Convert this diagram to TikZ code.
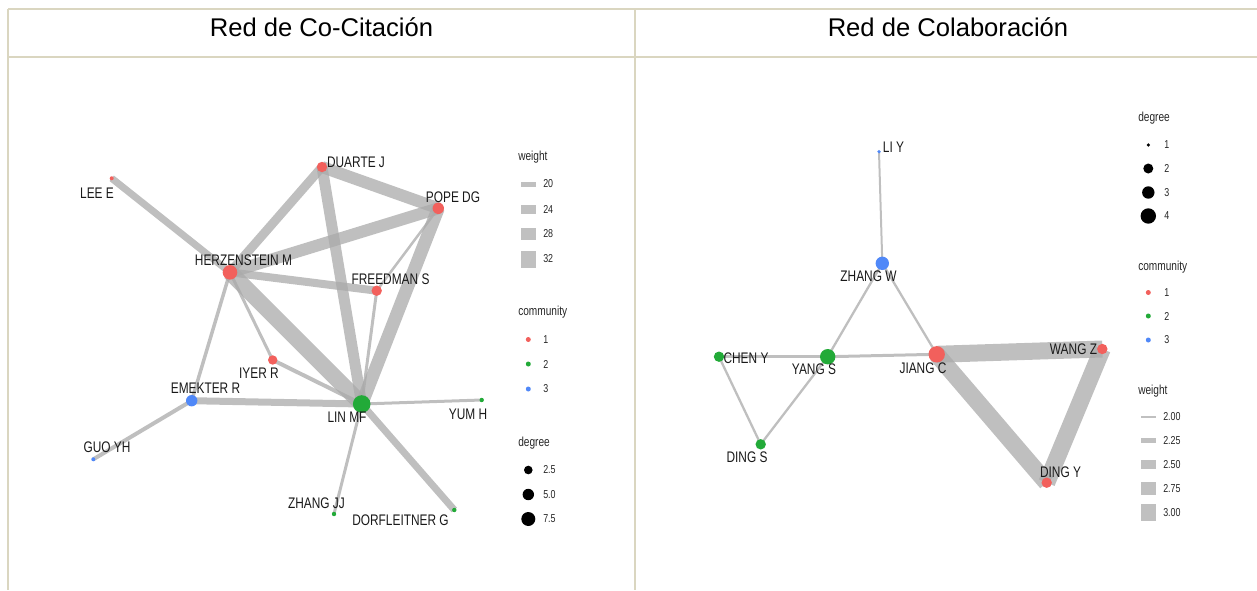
\documentclass[tikz,border=0pt]{standalone}
\usepackage{fontspec}
\setmainfont{Liberation Sans}
\newfontfamily\lblfont[FakeStretch=0.775]{Liberation Sans}
\usetikzlibrary{backgrounds}
\definecolor{cred}{HTML}{F2605C}
\definecolor{cgreen}{HTML}{22AA38}
\definecolor{cblue}{HTML}{5088F8}
\definecolor{edgegray}{RGB}{170,170,170}
\definecolor{keygray}{RGB}{192,192,192}
\definecolor{rulecol}{RGB}{218,214,192}
\tikzset{
  lnk/.style={draw=edgegray, opacity=0.75, line width=#1*0.75pt},
  dot/.style 2 args={circle, inner sep=0pt, minimum size=#2*1.5pt, fill=#1, draw=none},
  lbl/.style={font=\lblfont\fontsize{11.5}{12}\selectfont, inner sep=0pt, text=black!90},
  legt/.style={font=\lblfont\fontsize{9.8}{11}\selectfont, anchor=west, inner sep=0pt, text=black!85},
  legl/.style={font=\lblfont\fontsize{8.6}{9}\selectfont, anchor=west, inner sep=0pt, text=black!85},
  keybar/.style={fill=keygray, draw=none, inner sep=0pt, minimum width=15*0.75pt, minimum height=#1*0.75pt},
  ttl/.style={font=\fontsize{19.2}{22}\selectfont, inner sep=0pt, anchor=base},
  rulel/.style={draw=rulecol, line width=1.5pt}
}
\begin{document}
\begin{tikzpicture}[x=0.75pt,y=-0.75pt]
\useasboundingbox (0,0) rectangle (1257,590);
% table rules
\draw[rulel] (8,9) -- (1257,9);
\draw[rulel] (8,57) -- (1257,57);
\draw[rulel] (8,9) -- (8,590);
\draw[rulel] (635,9) -- (635,590);
\node[ttl] (t1) at (321.5,36.5) {Red de Co-Citación};
\node[ttl] (t2) at (948,36.5) {Red de Colaboración};

% ===== Left network nodes =====
\node[dot={cred}{2}] (lee) at (111.7,178.3) {};
\node[dot={cred}{5.2}] (duarte) at (322,167) {};
\node[dot={cred}{5.7}] (pope) at (438.3,208.3) {};
\node[dot={cred}{7.3}] (herz) at (230,272.3) {};
\node[dot={cred}{5.2}] (freed) at (376.7,290.7) {};
\node[dot={cred}{4.7}] (iyer) at (272.7,360) {};
\node[dot={cblue}{5.7}] (emek) at (191.7,400.7) {};
\node[dot={cgreen}{8.8}] (lin) at (361.7,404) {};
\node[dot={cgreen}{2.2}] (yum) at (481.7,400) {};
\node[dot={cblue}{2}] (guo) at (93.3,459.3) {};
\node[dot={cgreen}{2.2}] (zhangjj) at (334,514) {};
\node[dot={cgreen}{2.2}] (dorf) at (454.3,510) {};

\begin{pgfonlayer}{background}
\draw[lnk=7] (lee.center) -- (herz.center);
\draw[lnk=9] (herz.center) -- (duarte.center);
\draw[lnk=12] (duarte.center) -- (pope.center);
\draw[lnk=12] (herz.center) -- (pope.center);
\draw[lnk=11] (duarte.center) -- (lin.center);
\draw[lnk=8] (herz.center) -- (freed.center);
\draw[lnk=2.5] (pope.center) -- (freed.center);
\draw[lnk=13] (pope.center) -- (lin.center);
\draw[lnk=3] (freed.center) -- (lin.center);
\draw[lnk=16] (herz.center) -- (lin.center);
\draw[lnk=3] (herz.center) -- (iyer.center);
\draw[lnk=3.5] (herz.center) -- (emek.center);
\draw[lnk=4] (iyer.center) -- (lin.center);
\draw[lnk=7] (emek.center) -- (lin.center);
\draw[lnk=4] (emek.center) -- (guo.center);
\draw[lnk=3] (lin.center) -- (yum.center);
\draw[lnk=3] (lin.center) -- (zhangjj.center);
\draw[lnk=7] (lin.center) -- (dorf.center);
\end{pgfonlayer}

\node[lbl] (leeL) at (97,193) {LEE E};
\node[lbl] (duarteL) at (356,162) {DUARTE J};
\node[lbl] (popeL) at (453,197) {POPE DG};
\node[lbl] (herzL) at (243.5,260) {HERZENSTEIN M};
\node[lbl] (freedL) at (390.5,279) {FREEDMAN S};
\node[lbl] (iyerL) at (259,373) {IYER R};
\node[lbl] (emekL) at (205.5,388) {EMEKTER R};
\node[lbl] (linL) at (347,417) {LIN MF};
\node[lbl] (yumL) at (468,414) {YUM H};
\node[lbl] (guoL) at (107,447) {GUO YH};
\node[lbl] (zhangjjL) at (316.5,503) {ZHANG JJ};
\node[lbl] (dorfL) at (400.5,520) {DORFLEITNER G};

% left legends
\node[legt] (lw) at (518,157) {weight};
\node[keybar=5] (lk1) at (528,184) {};
\node[keybar=9] (lk2) at (528,209) {};
\node[keybar=12] (lk3) at (528,234) {};
\node[keybar=17] (lk4) at (528,259) {};
\node[legl] (lw1) at (543,184) {20};
\node[legl] (lw2) at (543,209) {24};
\node[legl] (lw3) at (543,234) {28};
\node[legl] (lw4) at (543,259) {32};

\node[legt] (lc) at (518,312) {community};
\node[dot={cred}{2.5}] (lc1d) at (528.3,339.5) {};
\node[dot={cgreen}{2.5}] (lc2d) at (528.3,364) {};
\node[dot={cblue}{2.5}] (lc3d) at (528.3,389) {};
\node[legl] (lc1) at (543,339.5) {1};
\node[legl] (lc2) at (543,364) {2};
\node[legl] (lc3) at (543,389) {3};

\node[legt] (ld) at (518,443) {degree};
\node[dot={black}{4.3}] (ld1d) at (528.3,470) {};
\node[dot={black}{5.7}] (ld2d) at (528.3,494.5) {};
\node[dot={black}{7}] (ld3d) at (528.3,519) {};
\node[legl] (ld1) at (543,470) {2.5};
\node[legl] (ld2) at (543,494.5) {5.0};
\node[legl] (ld3) at (543,519) {7.5};

% ===== Right network nodes =====
\node[dot={cblue}{1.8}] (liy) at (879,151.7) {};
\node[dot={cblue}{6.7}] (zhangw) at (882.3,263.3) {};
\node[dot={cgreen}{5.2}] (cheny) at (719,356.7) {};
\node[dot={cgreen}{7.7}] (yangs) at (827.7,356.7) {};
\node[dot={cred}{8.2}] (jiangc) at (936.7,354.3) {};
\node[dot={cred}{5.2}] (wangz) at (1102.3,349) {};
\node[dot={cgreen}{5.2}] (dings) at (760.7,444.3) {};
\node[dot={cred}{5.2}] (dingy) at (1046.7,482.7) {};

\begin{pgfonlayer}{background}
\draw[lnk=2] (liy.center) -- (zhangw.center);
\draw[lnk=2.3] (zhangw.center) -- (yangs.center);
\draw[lnk=2.3] (zhangw.center) -- (jiangc.center);
\draw[lnk=3] (cheny.center) -- (yangs.center);
\draw[lnk=3] (yangs.center) -- (jiangc.center);
\draw[lnk=2.3] (cheny.center) -- (dings.center);
\draw[lnk=2.3] (yangs.center) -- (dings.center);
\draw[lnk=17] (jiangc.center) -- (wangz.center);
\draw[lnk=17] (jiangc.center) -- (dingy.center);
\draw[lnk=17] (wangz.center) -- (dingy.center);
\end{pgfonlayer}

\node[lbl] (liyL) at (893.5,147) {LI Y};
\node[lbl] (zhangwL) at (868.5,276) {ZHANG W};
\node[lbl] (chenyL) at (746,358) {CHEN Y};
\node[lbl] (yangsL) at (814,369) {YANG S};
\node[lbl] (jiangcL) at (923,368) {JIANG C};
\node[lbl] (wangzL) at (1073.5,349) {WANG Z};
\node[lbl] (dingsL) at (747,457) {DING S};
\node[lbl] (dingyL) at (1060.5,472) {DING Y};

% right legends
\node[legt] (rd) at (1138,118) {degree};
\node[dot={black}{1.8}] (rd1d) at (1148.3,145) {};
\node[dot={black}{5}] (rd2d) at (1148.3,168.5) {};
\node[dot={black}{6.2}] (rd3d) at (1148.3,192.5) {};
\node[dot={black}{7.7}] (rd4d) at (1148.3,216) {};
\node[legl] (rd1) at (1164,145) {1};
\node[legl] (rd2) at (1164,168.5) {2};
\node[legl] (rd3) at (1164,192.5) {3};
\node[legl] (rd4) at (1164,216) {4};

\node[legt] (rc) at (1138,267) {community};
\node[dot={cred}{2.5}] (rc1d) at (1148.3,292.5) {};
\node[dot={cgreen}{2.5}] (rc2d) at (1148.3,316) {};
\node[dot={cblue}{2.5}] (rc3d) at (1148.3,340) {};
\node[legl] (rc1) at (1164,292.5) {1};
\node[legl] (rc2) at (1164,316) {2};
\node[legl] (rc3) at (1164,340) {3};

\node[legt] (rw) at (1138,391) {weight};
\node[keybar=2] (rk1) at (1148.3,416.5) {};
\node[keybar=5] (rk2) at (1148.3,440.5) {};
\node[keybar=9] (rk3) at (1148.3,464.5) {};
\node[keybar=13] (rk4) at (1148.3,488.5) {};
\node[keybar=17] (rk5) at (1148.3,512.5) {};
\node[legl] (rw1) at (1163,416.5) {2.00};
\node[legl] (rw2) at (1163,440.5) {2.25};
\node[legl] (rw3) at (1163,464.5) {2.50};
\node[legl] (rw4) at (1163,488.5) {2.75};
\node[legl] (rw5) at (1163,512.5) {3.00};
\end{tikzpicture}
\end{document}
